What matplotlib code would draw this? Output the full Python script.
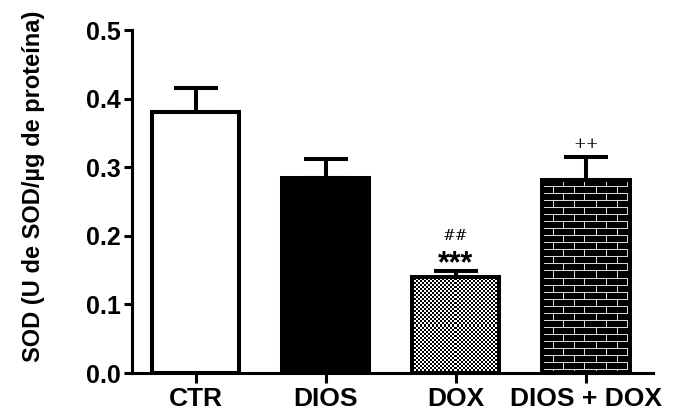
import matplotlib
matplotlib.use('Agg')
import matplotlib.pyplot as plt
import numpy as np

groups = ['CTR', 'DIOS', 'DOX', 'DIOS + DOX']
sod_mean = [0.380, 0.284, 0.140, 0.282]
sod_sem = [0.036, 0.028, 0.008, 0.033]
marks = ['', '', '***', '']
marks_top = ['', '', '##', '++']

plt.rcParams['font.family'] = ['Liberation Sans', 'DejaVu Sans']
plt.rcParams['font.weight'] = 'bold'

fig = plt.figure(figsize=(6.76, 4.17), dpi=100)
ax = fig.add_axes([0.195, 0.1055, 0.771, 0.8225])

x = np.arange(len(groups))
bw = 0.67
lw = 2.9

faces = ['white', 'black', 'white', 'black']
bars = ax.bar(x, sod_mean, width=bw, color=faces, edgecolor='none', zorder=2)
ax.errorbar(x, sod_mean, yerr=[np.zeros(len(x)), sod_sem], fmt='none',
            ecolor='black', elinewidth=lw, capsize=16, capthick=lw, zorder=1)

ax.set_xlim(-0.49, 3.515)
ax.set_ylim(0, 0.5)
fig.canvas.draw()

# pattern fills: checkerboard for DOX, bricks for DIOS + DOX
for i, kind in [(2, 'check'), (3, 'brick')]:
    b = bars[i]
    bb = b.get_window_extent()
    w, h = int(round(bb.width)), int(round(bb.height))
    rr, cc = np.mgrid[0:h, 0:w]
    if kind == 'check':
        img = ((rr // 2 + cc // 2) % 2).astype(float)
    else:
        img = np.zeros((h, w))
        img[rr % 7 == 0] = 0.85
        off = (rr // 7) % 2 * 10
        img[((cc + off) % 21 == 0) & (rr % 7 != 0)] = 0.85
    x0 = b.get_x()
    im = ax.imshow(img, cmap='gray', vmin=0, vmax=1, interpolation='nearest',
                   extent=[x0, x0 + b.get_width(), 0, b.get_height()],
                   aspect='auto', zorder=2.5)
    im.set_clip_path(b)

ax.bar(x, sod_mean, width=bw, facecolor='none', edgecolor='black',
       linewidth=lw, zorder=3)
ax.set_xlim(-0.49, 3.515)
ax.set_ylim(0, 0.5)

for i in range(len(x)):
    top = sod_mean[i] + sod_sem[i]
    if marks[i]:
        ax.text(x[i], top - 0.011, marks[i], ha='center', va='bottom',
                fontsize=22, fontweight='bold')
    if marks_top[i]:
        dy = 0.042 if marks[i] else 0.008
        ax.text(x[i], top + dy, marks_top[i], ha='center', va='bottom',
                fontsize=11, fontweight='normal', family='DejaVu Serif')

for s in ['top', 'right']:
    ax.spines[s].set_visible(False)
for s in ['left', 'bottom']:
    ax.spines[s].set_linewidth(2.2)

ax.set_xticks(x)
ax.set_xticklabels(groups)
ax.set_yticks([0.0, 0.1, 0.2, 0.3, 0.4, 0.5])
ax.set_yticklabels(['0.0', '0.1', '0.2', '0.3', '0.4', '0.5'])
ax.tick_params(axis='y', direction='out', length=6, width=2.2, labelsize=18, pad=2)
ax.tick_params(axis='x', direction='out', length=7, width=2.2, labelsize=19, pad=3)
ax.set_ylabel('SOD (U de SOD/µg de proteína)', fontsize=17, fontweight='bold')
ax.yaxis.set_label_coords(-0.167, 0.545)

fig.savefig('out.png', dpi=100)
